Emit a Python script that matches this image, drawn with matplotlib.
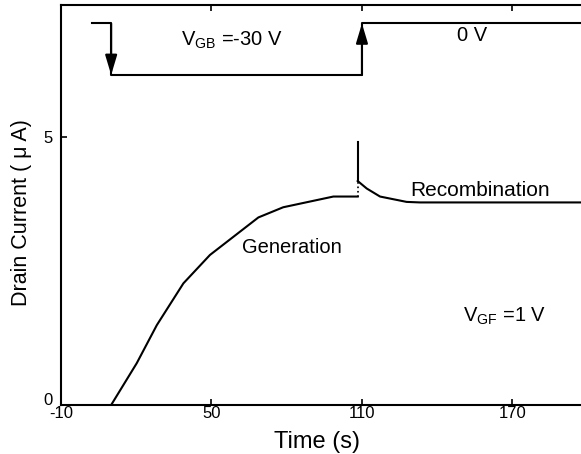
import matplotlib
matplotlib.use("Agg")
import matplotlib.pyplot as plt
from matplotlib.transforms import ScaledTranslation

plt.rcParams['font.family'] = ['Liberation Sans', 'DejaVu Sans']
plt.rcParams['mathtext.fontset'] = 'custom'
plt.rcParams['mathtext.rm'] = 'Liberation Sans'
plt.rcParams['axes.unicode_minus'] = False

# generation branch (gate pulse to -30 V)
gen_t = [10, 20.2, 28.2, 38.8, 49.4, 68.7, 78.6, 98.6, 108.3]
gen_i = [0, 0.78, 1.49, 2.27, 2.80, 3.50, 3.69, 3.89, 3.89]

# recombination branch (gate back to 0 V)
rec_t = [108.3, 111.9, 117.2, 127.8, 133.1, 200]
rec_i = [4.18, 4.04, 3.89, 3.79, 3.78, 3.78]

# spike right after switching
spike_t = 108.3
spike_top = 4.91

# back-gate waveform drawn schematically at the top
gate_t = [2.2, 10, 10, 110, 110, 200]
gate_v = [7.12, 7.12, 6.16, 6.16, 7.12, 7.12]

xticks = [-10, 50, 110, 170]
yticks = [0, 5]

fig = plt.figure(figsize=(5.81, 4.54), dpi=100)
ax = fig.add_axes([0.105, 0.108, 0.9065, 0.8816])

lw = 1.5
ax.plot(gen_t, gen_i, color='black', lw=lw)
ax.plot(rec_t, rec_i, color='black', lw=lw)
ax.plot([spike_t, spike_t], [gen_i[-1], rec_i[0]], color='black', lw=1.2, ls=':')
ax.plot([spike_t, spike_t], [rec_i[0], spike_top], color='black', lw=lw)

ax.plot(gate_t, gate_v, color='black', lw=lw)
arrow = dict(arrowstyle='-|>,head_length=1.2,head_width=0.36', color='black',
             lw=lw, shrinkA=0, shrinkB=0, mutation_scale=10)
ax.annotate('', xy=(gate_t[2], gate_v[2]), xytext=(gate_t[1], gate_v[1]), arrowprops=arrow)
ax.annotate('', xy=(gate_t[4], gate_v[4]), xytext=(gate_t[3], gate_v[3]), arrowprops=arrow)

ax.text(58, 6.8, r'V$_{\rm GB}$ =-30 V', fontsize=14.5, ha='center', va='center')
ax.text(154, 6.9, '0 V', fontsize=14.5, ha='center', va='center')
ax.text(82, 2.93, 'Generation', fontsize=14.5, ha='center', va='center')
ax.text(157, 4.0, 'Recombination', fontsize=15, ha='center', va='center')
ax.text(167, 1.65, r'V$_{\rm GF}$ =1 V', fontsize=14.5, ha='center', va='center')

ax.set_xlim(-10, 200)
ax.set_ylim(0, 7.47)
ax.set_xticks(xticks)
ax.set_yticks(yticks)
ax.tick_params(direction='in', top=True, length=4, width=1.2, labelsize=12)
ax.tick_params(axis='x', pad=1)
ax.tick_params(axis='y', pad=6)
for side in ['left', 'bottom', 'top']:
    ax.spines[side].set_linewidth(1.5)
ax.spines['right'].set_visible(False)

# the "0" sits a little higher so it clears "-10"
fig.canvas.draw()
zero = ax.get_yticklabels()[0]
zero.set_transform(zero.get_transform() + ScaledTranslation(0, 4 / 72, fig.dpi_scale_trans))

ax.set_xlabel('Time (s)', fontsize=17)
ax.set_ylabel('Drain Current ( μ A)', fontsize=15.5)
ax.xaxis.set_label_coords(0.486, -0.065)
ax.yaxis.set_label_coords(-0.055, 0.48)

fig.savefig('out.png', dpi=100)
